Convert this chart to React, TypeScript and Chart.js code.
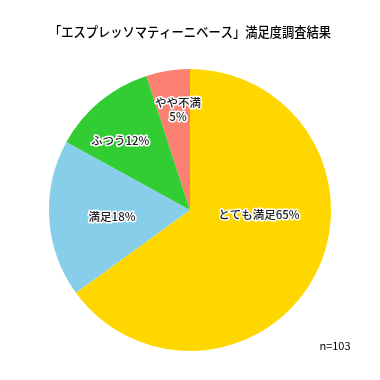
import React, { useEffect, useRef } from "react";
import { Chart, registerables } from "chart.js";

Chart.register(...registerables);

const TITLE = "「エスプレッソマティーニベース」満足度調査結果";
const CATEGORIES = ["とても満足", "満足", "ふつう", "やや不満"];
const VALUES = [65, 18, 12, 5];
const LABEL_LINES = [["とても満足65%"], ["満足18%"], ["ふつう12%"], ["やや不満", "5%"]];
const COLORS = ["#FFD700", "#87CEEB", "#32CD32", "#FA8072"];
const NOTE = "n=103";
// label placement: fraction along slice angle, fraction of radius
const LABEL_POS = [
  [0.402, 0.49],
  [0.477, 0.555],
  [0.375, 0.7],
  [0.62, 0.714],
];

const FONT = "'Noto Sans CJK JP', 'Noto Sans', sans-serif";

const labelPlugin = {
  id: "sliceLabels",
  afterDatasetsDraw(chart: any) {
    const ctx = chart.ctx;
    const meta = chart.getDatasetMeta(0);
    ctx.save();
    ctx.font = `500 11.5px ${FONT}`;
    ctx.textAlign = "center";
    ctx.textBaseline = "middle";
    ctx.lineJoin = "round";
    meta.data.forEach((arc: any, i: number) => {
      const { x, y, startAngle, endAngle, outerRadius } = arc.getProps(
        ["x", "y", "startAngle", "endAngle", "outerRadius"],
        true
      );
      const [af, rf] = LABEL_POS[i];
      const a = startAngle + (endAngle - startAngle) * af;
      const r = outerRadius * rf;
      const cx = x + Math.cos(a) * r;
      const cy = y + Math.sin(a) * r;
      const lines = LABEL_LINES[i];
      const lh = 14;
      lines.forEach((t, j) => {
        const ly = cy + (j - (lines.length - 1) / 2) * lh;
        ctx.strokeStyle = "#ffffff";
        ctx.lineWidth = 3;
        ctx.strokeText(t, cx, ly);
        ctx.fillStyle = "#222222";
        ctx.fillText(t, cx, ly);
      });
    });
    ctx.font = `11px ${FONT}`;
    ctx.fillStyle = "#000000";
    ctx.fillText(NOTE, 335, 346);
    ctx.restore();
  },
};

export default function App() {
  const ref = useRef<HTMLCanvasElement>(null);
  useEffect(() => {
    document.body.style.margin = "0";
    const chart = new Chart(ref.current!, {
      type: "pie",
      data: {
        labels: CATEGORIES,
        datasets: [
          {
            data: VALUES,
            backgroundColor: COLORS,
            borderWidth: 0,
          },
        ],
      },
      options: {
        responsive: false,
        animation: false,
        layout: { padding: { left: 49, right: 49, top: 0, bottom: 29 } },
        plugins: {
          legend: { display: false },
          tooltip: { enabled: false },
          title: {
            display: true,
            text: TITLE,
            color: "#000000",
            font: { size: 13.3, family: FONT, weight: "500" as any, lineHeight: 1.2 },
            padding: { top: 24, bottom: 29 },
          },
        },
      },
      plugins: [labelPlugin],
    });
    return () => chart.destroy();
  }, []);
  return (
    <div style={{ position: "absolute", left: 0, top: 0, width: 380, height: 380, background: "#fff" }}>
      <canvas ref={ref} width={380} height={380} />
    </div>
  );
}
